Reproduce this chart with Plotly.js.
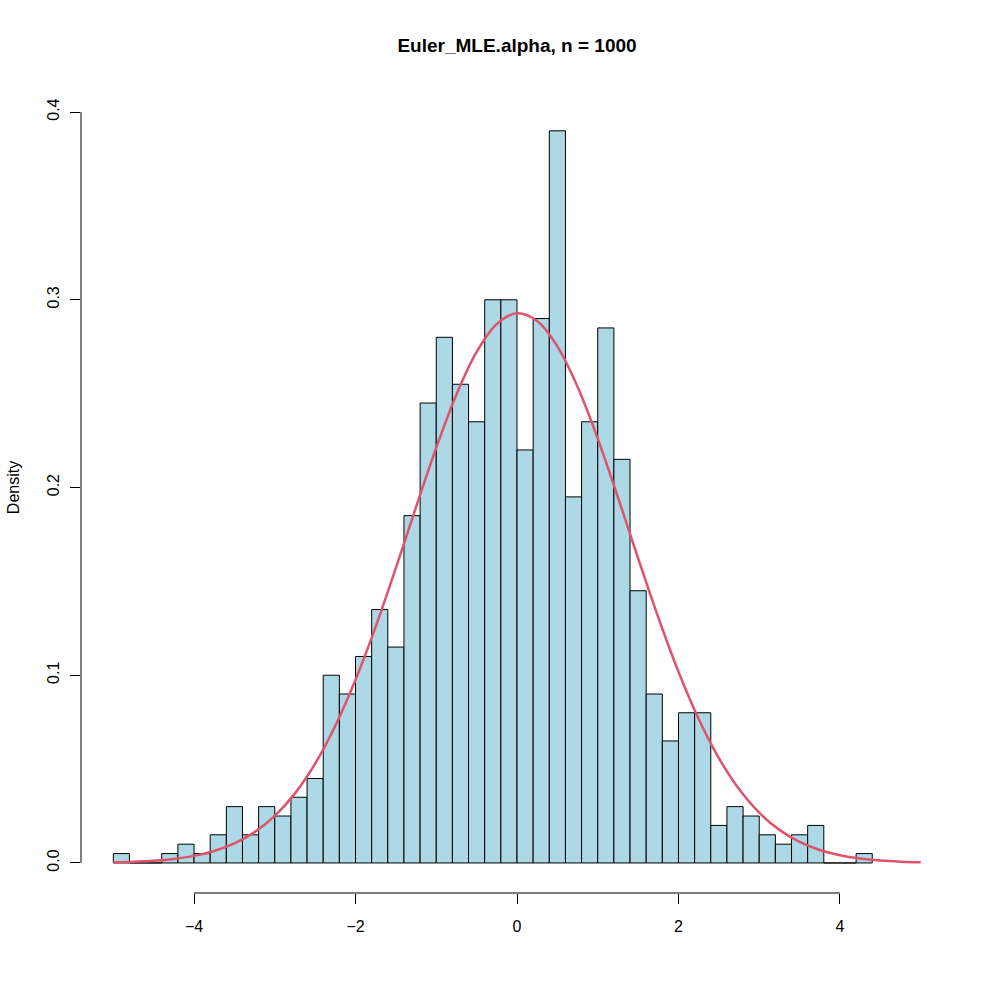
<!DOCTYPE html>
<html>
<head>
<meta charset="utf-8">
<script src="https://cdn.plot.ly/plotly-3.0.1.min.js"></script>
<style>html,body{margin:0;padding:0;background:#fff;}#chart{width:996px;height:996px;}</style>
</head>
<body>
<div id="chart"></div>
<script>
// Histogram bin left edges (bin width 0.2)
const binLeft = [-5.0,-4.8,-4.6,-4.4,-4.2,-4.0,-3.8,-3.6,-3.4,-3.2,-3.0,-2.8,-2.6,-2.4,-2.2,-2.0,-1.8,-1.6,-1.4,-1.2,-1.0,-0.8,-0.6,-0.4,-0.2,0.0,0.2,0.4,0.6,0.8,1.0,1.2,1.4,1.6,1.8,2.0,2.2,2.4,2.6,2.8,3.0,3.2,3.4,3.6,3.8,4.0,4.2];
const binWidth = 0.2;
// Density of each bin
const density = [0.005,0,0,0.005,0.01,0.005,0.015,0.03,0.015,0.03,0.025,0.035,0.045,0.10,0.09,0.11,0.135,0.115,0.185,0.245,0.28,0.255,0.235,0.30,0.30,0.22,0.29,0.39,0.195,0.235,0.285,0.215,0.145,0.09,0.065,0.08,0.08,0.02,0.03,0.025,0.015,0.01,0.015,0.02,0,0,0.005];
// Fitted density curve
const curveX = [-5,-4.75,-4.5,-4.25,-4,-3.75,-3.5,-3.25,-3,-2.75,-2.5,-2.25,-2,-1.75,-1.5,-1.25,-1,-0.75,-0.5,-0.25,0,0.25,0.5,0.75,1,1.25,1.5,1.75,2,2.25,2.5,2.75,3,3.25,3.5,3.75,4,4.25,4.5,4.75,5];
const curveY = [0.00033,0.00064,0.00119,0.00216,0.00377,0.00637,0.0104,0.01644,0.0251,0.03707,0.05293,0.07309,0.09757,0.12592,0.15715,0.18964,0.22125,0.24958,0.27223,0.28711,0.29277,0.28866,0.27518,0.25365,0.22606,0.19481,0.16232,0.13076,0.10186,0.07672,0.05586,0.03934,0.02678,0.01763,0.01122,0.00691,0.00411,0.00236,0.00132,0.00071,0.00037];
// Tick labels
const xTickVals = [-4,-2,0,2,4];
const xTickText = ['\u22124','\u22122','0','2','4'];
const yTickVals = [0,0.1,0.2,0.3,0.4];
const yTickText = ['0.0','0.1','0.2','0.3','0.4'];
const titleText = 'Euler_MLE.alpha, n = 1000';
const yTitle = 'Density';

const binCenter = binLeft.map(v => v + binWidth/2);
const FONT = 'Liberation Sans, Arial, Helvetica, sans-serif';

const traces = [
  {
    type: 'bar',
    x: binCenter,
    y: density,
    width: binLeft.map(() => binWidth),
    marker: {color: '#ADD8E6', line: {color: '#000000', width: 1}},
    hoverinfo: 'skip'
  },
  {
    type: 'scatter',
    mode: 'lines',
    x: curveX,
    y: curveY,
    line: {color: '#DF536B', width: 2.5, shape: 'spline', smoothing: 1},
    hoverinfo: 'skip'
  }
];

const layout = {
  width: 996,
  height: 996,
  margin: {l: 81, r: 43, t: 82, b: 103, pad: 0},
  paper_bgcolor: '#ffffff',
  plot_bgcolor: '#ffffff',
  showlegend: false,
  bargap: 0,
  font: {family: FONT, color: '#000000', size: 16},
  title: {
    text: '<b>' + titleText + '</b>',
    font: {family: FONT, size: 19, color: '#000000'},
    x: 0.5, xref: 'paper', xanchor: 'center',
    y: 1 - 45/996, yref: 'container', yanchor: 'middle'
  },
  xaxis: {
    range: [-5.4, 5.4],
    tickmode: 'array',
    tickvals: xTickVals,
    ticktext: xTickText,
    ticks: 'outside',
    ticklen: 10,
    tickwidth: 1,
    tickcolor: '#000000',
    showgrid: false,
    zeroline: false,
    showline: false,
    tickfont: {family: FONT, size: 16, color: '#000000'},
    ticklabelstandoff: 9
  },
  yaxis: {
    range: [-0.016, 0.416],
    tickmode: 'array',
    tickvals: yTickVals,
    ticktext: yTickText,
    tickangle: -90,
    ticks: 'outside',
    ticklen: 10,
    tickwidth: 1,
    tickcolor: '#000000',
    showgrid: false,
    zeroline: false,
    showline: false,
    tickfont: {family: FONT, size: 16, color: '#000000'},
    ticklabelstandoff: 5,
    title: {text: yTitle, font: {family: FONT, size: 16, color: '#000000'}, standoff: 20}
  },
  shapes: [
    {type: 'line', xref: 'x', yref: 'paper', x0: xTickVals[0], x1: xTickVals[xTickVals.length-1], y0: 0, y1: 0, line: {color: '#000000', width: 1}},
    {type: 'line', xref: 'paper', yref: 'y', x0: 0, x1: 0, y0: yTickVals[0], y1: yTickVals[yTickVals.length-1], line: {color: '#000000', width: 1}}
  ]
};

Plotly.newPlot('chart', traces, layout, {staticPlot: true, displayModeBar: false});
</script>
</body>
</html>
